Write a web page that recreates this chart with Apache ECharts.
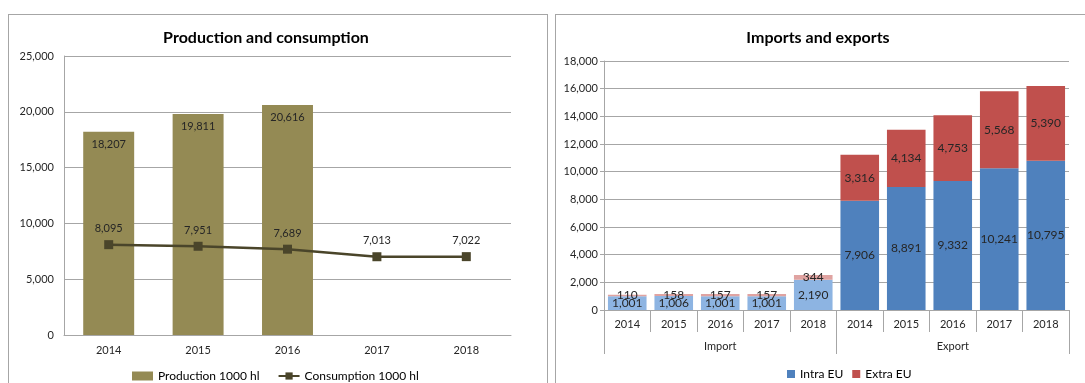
<!DOCTYPE html>
<html>
<head>
<meta charset="utf-8">
<script src="https://cdn.jsdelivr.net/npm/echarts@6/dist/echarts.min.js"></script>
<style>
  html, body { margin: 0; padding: 0; width: 1085px; height: 383px; overflow: hidden; background: #fff; }
  .panel { position: absolute; top: 14px; height: 400px; border: 1px solid #a6a6a6; box-sizing: border-box; }
  #left { left: 8px; width: 540px; }
  #right { left: 555px; width: 600px; }
</style>
</head>
<body>
<div class="panel" id="left"></div>
<div class="panel" id="right"></div>
<script>
// production / consumption
const years = ['2014', '2015', '2016', '2017', '2018'];
const production = [18207, 19811, 20616, null, null];
const consumption = [8095, 7951, 7689, 7013, 7022];

// imports / exports
const tradeYears = ['2014', '2015', '2016', '2017', '2018', '2014', '2015', '2016', '2017', '2018'];
const tradeGroups = ['Import', 'Export'];
const intraEU = [1001, 1006, 1001, 1001, 2190, 7906, 8891, 9332, 10241, 10795];
const extraEU = [110, 158, 157, 157, 344, 3316, 4134, 4753, 5568, 5390];

const FONT = 'Lato, "Liberation Sans", sans-serif';
const fmt = v => (v == null ? '' : Number(v).toLocaleString('en-US'));
const gridColor = '#a6a6a6';
const txt = '#262626';

const leftChart = echarts.init(document.getElementById('left'));
leftChart.setOption({
  animation: false,
  textStyle: { fontFamily: FONT },
  title: {
    text: 'Production and consumption',
    left: 252, textAlign: 'center', top: 10,
    textStyle: { fontFamily: FONT, fontSize: 16, fontWeight: 'bold', color: '#000' }
  },
  legend: {
    left: 118, top: 350, itemGap: 18,
    itemWidth: 21, itemHeight: 9,
    textStyle: { fontFamily: FONT, fontSize: 12, color: '#000' },
    data: [
      { name: 'Production 1000 hl', icon: 'rect' },
      { name: 'Consumption 1000 hl' }
    ]
  },
  grid: { left: 55, top: 41, width: 447, height: 279 },
  xAxis: {
    type: 'category', data: years,
    axisLine: { lineStyle: { color: gridColor } },
    axisTick: { show: false },
    axisLabel: { color: txt, fontSize: 11, margin: 10, fontFamily: FONT }
  },
  yAxis: {
    type: 'value', min: 0, max: 25000, interval: 5000,
    axisLine: { show: true, lineStyle: { color: gridColor } },
    axisTick: { show: false },
    splitLine: { lineStyle: { color: gridColor } },
    axisLabel: { color: txt, fontSize: 11, margin: 10, fontFamily: FONT, formatter: fmt }
  },
  series: [
    {
      name: 'Production 1000 hl', type: 'bar', data: production,
      barCategoryGap: '43%',
      itemStyle: { color: '#948a54' },
      label: {
        show: true, position: 'insideTop', distance: 7,
        color: txt, fontSize: 11, fontFamily: FONT,
        formatter: p => fmt(p.value)
      }
    },
    {
      name: 'Consumption 1000 hl', type: 'line', data: consumption,
      symbol: 'rect', symbolSize: 9,
      lineStyle: { color: '#4a452a', width: 2.5 },
      itemStyle: { color: '#4a452a' },
      label: {
        show: true, position: 'top', distance: 6,
        color: txt, fontSize: 11, fontFamily: FONT,
        formatter: p => fmt(p.value)
      }
    }
  ]
});

const lightBlue = '#8db4e2', darkBlue = '#4f81bd';
const lightRed = '#e0a3a1', darkRed = '#c0504d';

const rightChart = echarts.init(document.getElementById('right'));
rightChart.setOption({
  animation: false,
  textStyle: { fontFamily: FONT },
  title: {
    text: 'Imports and exports',
    left: 257, textAlign: 'center', top: 10,
    textStyle: { fontFamily: FONT, fontSize: 16, fontWeight: 'bold', color: '#000' }
  },
  legend: {
    left: 226, top: 348, itemGap: 9,
    itemWidth: 8, itemHeight: 8, icon: 'rect',
    textStyle: { fontFamily: FONT, fontSize: 12, color: '#000' },
    data: [
      { name: 'Intra EU', itemStyle: { color: darkBlue } },
      { name: 'Extra EU', itemStyle: { color: darkRed } }
    ]
  },
  grid: { left: 48, top: 46, width: 465, height: 249 },
  xAxis: [
    {
      type: 'category', data: tradeYears,
      axisLine: { lineStyle: { color: gridColor } },
      axisTick: { show: true, length: 22, lineStyle: { color: gridColor } },
      axisLabel: { color: txt, fontSize: 11, margin: 9, fontFamily: FONT }
    },
    {
      type: 'category', data: tradeGroups, position: 'bottom',
      axisLine: { show: false },
      axisTick: { show: true, length: 44, lineStyle: { color: gridColor } },
      axisLabel: { color: txt, fontSize: 11, margin: 31, fontFamily: FONT }
    }
  ],
  yAxis: {
    type: 'value', min: 0, max: 18000, interval: 2000,
    axisLine: { show: true, lineStyle: { color: gridColor } },
    axisTick: { show: true, length: 4, lineStyle: { color: gridColor } },
    splitLine: { lineStyle: { color: gridColor } },
    axisLabel: { color: txt, fontSize: 11, margin: 6, fontFamily: FONT, formatter: fmt }
  },
  series: [
    {
      name: 'Intra EU', type: 'bar', stack: 'trade', xAxisIndex: 0,
      data: intraEU, barCategoryGap: '17%',
      itemStyle: { color: p => (p.dataIndex < 5 ? lightBlue : darkBlue) },
      label: {
        show: true, position: 'inside', color: txt, fontSize: 12, fontFamily: FONT,
        formatter: p => fmt(p.value)
      }
    },
    {
      name: 'Extra EU', type: 'bar', stack: 'trade', xAxisIndex: 0,
      data: extraEU,
      itemStyle: { color: p => (p.dataIndex < 5 ? lightRed : darkRed) },
      label: {
        show: true, position: 'inside', color: txt, fontSize: 12, fontFamily: FONT,
        formatter: p => fmt(p.value)
      }
    }
  ]
});
</script>
</body>
</html>
